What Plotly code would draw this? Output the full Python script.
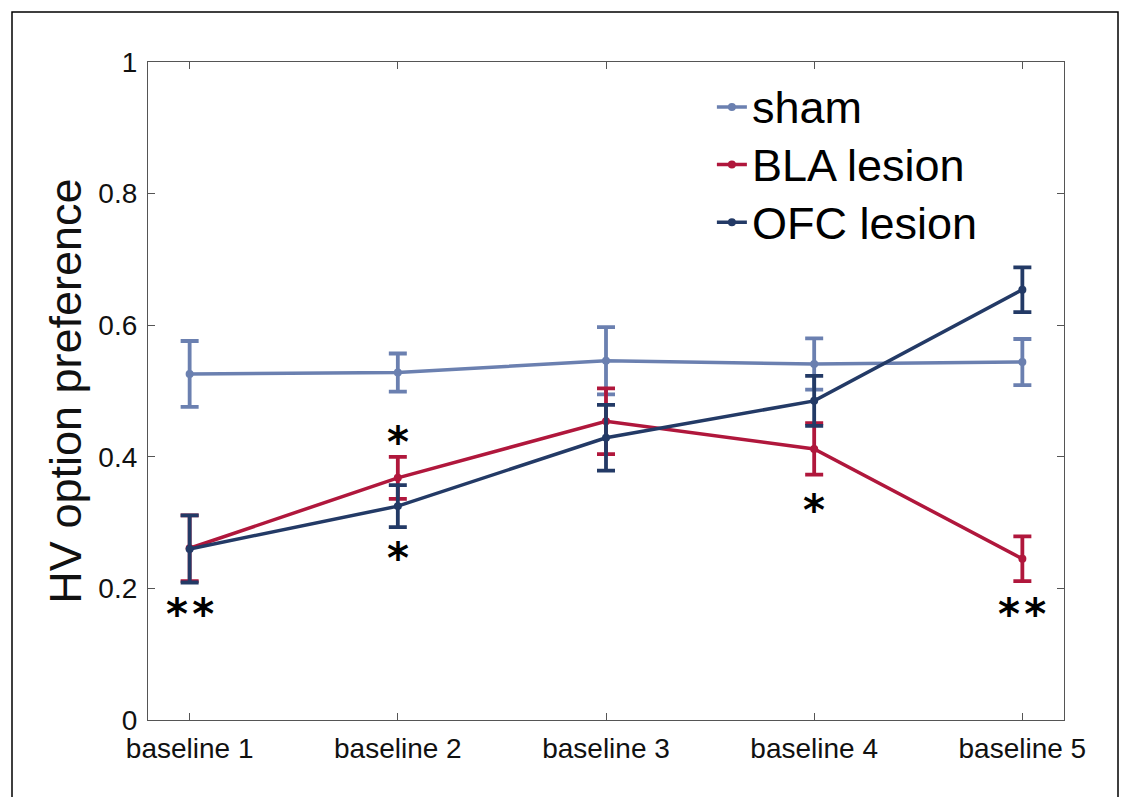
import plotly.graph_objects as go

categories = ["baseline 1", "baseline 2", "baseline 3", "baseline 4", "baseline 5"]
x_pos = [1, 2, 3, 4, 5]

sham_mean = [0.526, 0.528, 0.546, 0.541, 0.544]
sham_err = [0.050, 0.029, 0.051, 0.039, 0.035]
bla_mean = [0.261, 0.368, 0.454, 0.412, 0.245]
bla_err = [0.050, 0.032, 0.050, 0.039, 0.034]
ofc_mean = [0.260, 0.325, 0.429, 0.485, 0.654]
ofc_err = [0.051, 0.032, 0.050, 0.038, 0.034]

series_names = ["sham", "BLA lesion", "OFC lesion"]
colors = ["#6b80b0", "#b0173c", "#233a66"]

# significance marks: (x position, y value, text)
sig_x = [1, 2, 2, 4, 5]
sig_y = [0.160, 0.4225, 0.245, 0.318, 0.160]
sig_text = ["*\u200a*", "*", "*", "*", "*\u200a*"]

FONT = "Liberation Sans, Arial"

fig = go.Figure()
for name, m, e, c in zip(series_names, [sham_mean, bla_mean, ofc_mean],
                         [sham_err, bla_err, ofc_err], colors):
    fig.add_trace(go.Scatter(
        x=x_pos, y=m, name="<span style='font-size:45px'>" + name + "</span>",
        mode="lines+markers",
        line=dict(color=c, width=3.5),
        marker=dict(color=c, size=8),
        error_y=dict(type="data", array=e, visible=True, color=c,
                     thickness=3.8, width=9),
    ))

for xs, ys, t in zip(sig_x, sig_y, sig_text):
    fig.add_annotation(x=xs, y=ys, text=t, showarrow=False,
                       font=dict(size=42, color="black", family="DejaVu Sans",
                                 weight="bold"),
                       xanchor="center", yanchor="middle")

# outer frame
fig.add_shape(type="rect", xref="paper", yref="paper",
              x0=(12 - 148) / 916, x1=(1118 - 148) / 916,
              y0=(720 - 820) / 658, y1=(720 - 12) / 658,
              line=dict(color="black", width=1.5), fillcolor="rgba(0,0,0,0)")

axis_common = dict(showline=True, linecolor="#555555", linewidth=1.2, mirror="ticks",
                   ticks="inside", ticklen=7, tickcolor="#555555", showgrid=False,
                   zeroline=False)

fig.update_layout(
    width=1122, height=789,
    paper_bgcolor="white", plot_bgcolor="white",
    margin=dict(l=140, r=66, t=54, b=77),
    xaxis=dict(range=[0.8, 5.2], tickvals=x_pos, ticktext=categories,
               tickfont=dict(size=28, color="#111111", family=FONT),
               ticklabelstandoff=3,
               **axis_common),
    yaxis=dict(range=[0, 1], tickvals=[0, 0.2, 0.4, 0.6, 0.8, 1],
               ticktext=["0", "0.2", "0.4", "0.6", "0.8", "1"],
               tickfont=dict(size=28, color="#111111", family=FONT),
               ticklabelstandoff=4,
               title=dict(text="HV option preference", standoff=2,
                          font=dict(size=45, color="#111111", family=FONT)),
               **axis_common),
    legend=dict(x=0.6156, y=0.983, xanchor="left", yanchor="top",
                bgcolor="rgba(0,0,0,0)",
                font=dict(size=42, color="black", family=FONT),
                itemwidth=30),
    showlegend=True,
)

fig.write_html("out.html")
